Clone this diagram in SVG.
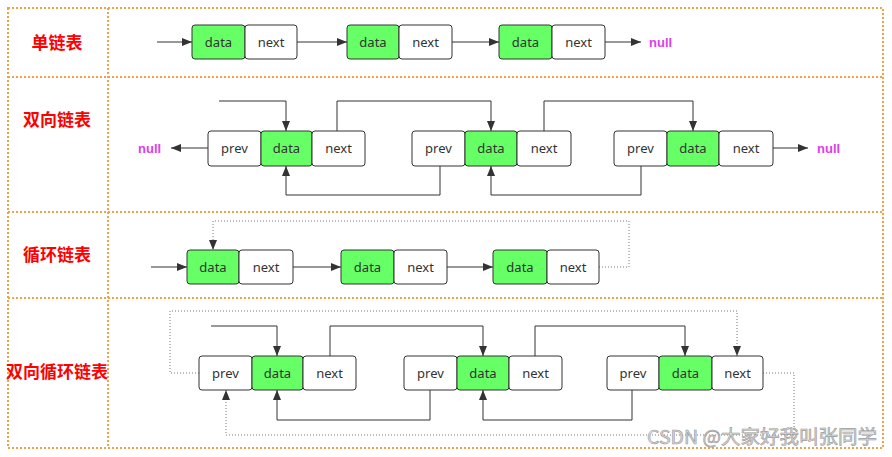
<svg xmlns="http://www.w3.org/2000/svg" width="892" height="457" viewBox="0 0 892 457">
<style>
.grid{fill:none;stroke:#F2A246;stroke-width:2;stroke-dasharray:2 2}
.box{fill:#fff;stroke:#333;stroke-width:1}
.g{fill:#66FF66}
.t{font-family:"Noto Sans","DejaVu Sans",sans-serif;font-size:13px;fill:#333;text-anchor:middle}
.lbl{font-family:"Noto Sans CJK SC",sans-serif;font-size:17px;font-weight:bold;fill:#FF0000;text-anchor:middle}
.null{font-family:"Liberation Sans",Arial,sans-serif;font-size:13px;font-weight:bold;fill:#E040E8}
.c{fill:none;stroke:#333;stroke-width:1;marker-end:url(#arr)}
.d{fill:none;stroke:#777;stroke-width:1;stroke-dasharray:1 2;marker-end:url(#arr)}
.wm{font-family:"Noto Sans CJK SC",sans-serif;font-size:19px;fill:#D8D8D8;stroke:#999;stroke-width:0.6}
</style>
<defs>
<marker id="arr" markerUnits="userSpaceOnUse" markerWidth="11" markerHeight="8" refX="10" refY="4" orient="auto">
<path d="M0,0 L10,4 L0,8 z" fill="#333"/>
</marker>
</defs>
<rect width="892" height="457" fill="#fff"/>
<g id="grid">
<rect class="grid" x="8" y="8" width="875" height="440"/>
<line class="grid" x1="8" y1="77" x2="883" y2="77"/>
<line class="grid" x1="8" y1="212" x2="883" y2="212"/>
<line class="grid" x1="8" y1="298" x2="883" y2="298"/>
<line class="grid" x1="108" y1="8" x2="108" y2="448"/>
</g>
<g id="labels">
<text class="lbl" x="57" y="49">单链表</text>
<text class="lbl" x="57" y="126">双向链表</text>
<text class="lbl" x="57" y="261">循环链表</text>
<text class="lbl" x="57" y="378">双向循环链表</text>
</g>
<g id="connectors">
<path class="c" d="M157 42 H192"/>
<path class="c" d="M297 42 H347"/>
<path class="c" d="M452 42 H499"/>
<path class="c" d="M605 42 H641"/>
<path class="c" d="M219 101 H286 V131"/>
<path class="c" d="M337 131 V101 H491 V131"/>
<path class="c" d="M544 131 V101 H693 V131"/>
<path class="c" d="M440 166 V195 H286 V166"/>
<path class="c" d="M641 166 V195 H491 V166"/>
<path class="c" d="M208 148 H171"/>
<path class="c" d="M773 148 H808"/>
<path class="c" d="M151 267 H187"/>
<path class="c" d="M293 267 H341"/>
<path class="c" d="M447 267 H493"/>
<path class="d" d="M599 267 H629 V221 H213 V250"/>
<path class="c" d="M211 326 H277 V356"/>
<path class="c" d="M330 356 V326 H483 V356"/>
<path class="c" d="M535 356 V326 H685 V356"/>
<path class="c" d="M430 390 V420 H277 V390"/>
<path class="c" d="M632 390 V420 H483 V390"/>
<path class="d" d="M199 373 H170 V311 H737 V356"/>
<path class="d" d="M763 373 H794 V435 H226 V390"/>
</g>
<g id="nulls">
<text class="null" x="649" y="47">null</text>
<text class="null" x="138" y="153">null</text>
<text class="null" x="817" y="153">null</text>
</g>
<g id="row1-node1">
<rect class="box g" x="192" y="25" width="53" height="34" rx="3"/><text class="t" x="218.5" y="46.5">data</text>
<rect class="box" x="245" y="25" width="52" height="34" rx="3"/><text class="t" x="271" y="46.5">next</text>
</g>
<g id="row1-node2">
<rect class="box g" x="347" y="25" width="52" height="34" rx="3"/><text class="t" x="373" y="46.5">data</text>
<rect class="box" x="399" y="25" width="53" height="34" rx="3"/><text class="t" x="425.5" y="46.5">next</text>
</g>
<g id="row1-node3">
<rect class="box g" x="499" y="25" width="53" height="34" rx="3"/><text class="t" x="525.5" y="46.5">data</text>
<rect class="box" x="552" y="25" width="53" height="34" rx="3"/><text class="t" x="578.5" y="46.5">next</text>
</g>
<g id="row2-node1">
<rect class="box" x="208" y="131" width="53" height="35" rx="3"/><text class="t" x="234.5" y="153">prev</text>
<rect class="box g" x="261" y="131" width="51" height="35" rx="3"/><text class="t" x="286.5" y="153">data</text>
<rect class="box" x="312" y="131" width="53" height="35" rx="3"/><text class="t" x="338.5" y="153">next</text>
</g>
<g id="row2-node2">
<rect class="box" x="412" y="131" width="53" height="35" rx="3"/><text class="t" x="438.5" y="153">prev</text>
<rect class="box g" x="465" y="131" width="52" height="35" rx="3"/><text class="t" x="491" y="153">data</text>
<rect class="box" x="517" y="131" width="54" height="35" rx="3"/><text class="t" x="544" y="153">next</text>
</g>
<g id="row2-node3">
<rect class="box" x="614" y="131" width="53" height="35" rx="3"/><text class="t" x="640.5" y="153">prev</text>
<rect class="box g" x="667" y="131" width="52" height="35" rx="3"/><text class="t" x="693" y="153">data</text>
<rect class="box" x="719" y="131" width="54" height="35" rx="3"/><text class="t" x="746" y="153">next</text>
</g>
<g id="row3-node1">
<rect class="box g" x="187" y="250" width="52" height="34" rx="3"/><text class="t" x="213" y="271.5">data</text>
<rect class="box" x="239" y="250" width="54" height="34" rx="3"/><text class="t" x="266" y="271.5">next</text>
</g>
<g id="row3-node2">
<rect class="box g" x="341" y="250" width="53" height="34" rx="3"/><text class="t" x="367.5" y="271.5">data</text>
<rect class="box" x="394" y="250" width="53" height="34" rx="3"/><text class="t" x="420.5" y="271.5">next</text>
</g>
<g id="row3-node3">
<rect class="box g" x="493" y="250" width="54" height="34" rx="3"/><text class="t" x="520" y="271.5">data</text>
<rect class="box" x="547" y="250" width="52" height="34" rx="3"/><text class="t" x="573" y="271.5">next</text>
</g>
<g id="row4-node1">
<rect class="box" x="199" y="356" width="53" height="34" rx="3"/><text class="t" x="225.5" y="377.5">prev</text>
<rect class="box g" x="252" y="356" width="51" height="34" rx="3"/><text class="t" x="277.5" y="377.5">data</text>
<rect class="box" x="303" y="356" width="53" height="34" rx="3"/><text class="t" x="329.5" y="377.5">next</text>
</g>
<g id="row4-node2">
<rect class="box" x="404" y="356" width="53" height="34" rx="3"/><text class="t" x="430.5" y="377.5">prev</text>
<rect class="box g" x="457" y="356" width="52" height="34" rx="3"/><text class="t" x="483" y="377.5">data</text>
<rect class="box" x="509" y="356" width="53" height="34" rx="3"/><text class="t" x="535.5" y="377.5">next</text>
</g>
<g id="row4-node3">
<rect class="box" x="607" y="356" width="52" height="34" rx="3"/><text class="t" x="633" y="377.5">prev</text>
<rect class="box g" x="659" y="356" width="53" height="34" rx="3"/><text class="t" x="685.5" y="377.5">data</text>
<rect class="box" x="712" y="356" width="51" height="34" rx="3"/><text class="t" x="737.5" y="377.5">next</text>
</g>
<text class="wm" x="647" y="444" textLength="230" lengthAdjust="spacingAndGlyphs">CSDN @大家好我叫张同学</text>
</svg>
